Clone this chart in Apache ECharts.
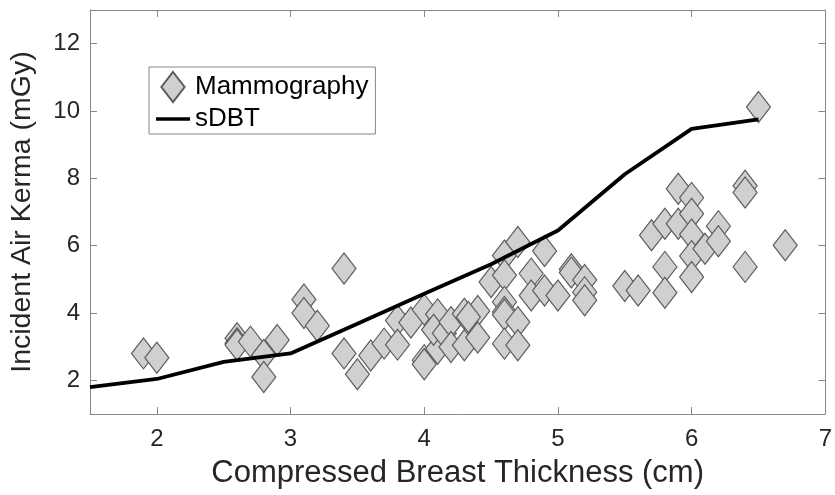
<!DOCTYPE html>
<html>
<head>
<meta charset="utf-8">
<title>Incident Air Kerma vs Compressed Breast Thickness</title>
<script src="https://cdn.jsdelivr.net/npm/echarts@6/dist/echarts.min.js"></script>
<style>
  html, body { margin: 0; padding: 0; background: #fff; }
  #chart { width: 835px; height: 495px; }
</style>
</head>
<body>
<div id="chart"></div>
<script>
// 乳腺X线摄影散点 (cm, mGy)
const mammoX = [
  1.9, 2.0,
  2.6, 2.6, 2.6, 2.7, 2.8, 2.8, 2.9,
  3.1, 3.1, 3.2,
  3.4, 3.4, 3.5, 3.6, 3.7, 3.8, 3.8, 3.9,
  4.0, 4.0, 4.0, 4.1, 4.1, 4.07, 4.15, 4.2, 4.2, 4.3, 4.3, 4.4, 4.4, 4.33,
  4.5, 4.6, 4.6, 4.6, 4.6, 4.6, 4.6, 4.7, 4.7, 4.7, 4.8, 4.8, 4.9, 4.9, 5.0,
  5.1, 5.1, 5.2, 5.2, 5.2,
  5.5, 5.6, 5.7, 5.8, 5.8, 5.8, 5.9, 5.9, 6.0, 6.0, 6.0, 6.0, 6.0, 6.1, 6.2, 6.2,
  6.4, 6.4, 6.4, 6.5, 6.7
]
const mammoY = [
  2.8, 2.67,
  3.25, 3.1, 3.05, 3.15, 2.75, 2.1, 3.2,
  4.4, 4.0, 3.62,
  5.32, 2.8, 2.18, 2.74, 3.09, 3.78, 3.06, 3.72,
  4.1, 2.6, 2.48, 3.96, 2.94, 3.5, 3.4, 3.73, 2.99, 3.98, 3.04, 4.06, 3.27, 3.88,
  4.92, 5.71, 5.12, 4.33, 4.03, 3.95, 3.09, 6.11, 3.73, 3.04, 5.17, 4.52, 5.84, 4.67, 4.52,
  5.3, 5.2, 4.98, 4.62, 4.38,
  4.8, 4.67, 6.31, 6.65, 5.37, 4.6, 7.69, 6.65, 7.42, 6.95, 6.33, 5.69, 5.07, 5.91, 6.58, 6.13,
  7.78, 7.58, 5.37, 10.12, 6.01
]

// sDBT 曲线
const sdbtX = [1.5, 2.0, 2.5, 3.0, 3.5, 4.0, 4.5, 5.0, 5.5, 6.0, 6.5]
const sdbtY = [1.8, 2.04, 2.55, 2.8, 3.68, 4.57, 5.45, 6.45, 8.12, 9.47, 9.75]

// 刻度
const xTicks = [2, 3, 4, 5, 6, 7]
const yTicks = [2, 4, 6, 8, 10, 12]

const fontFamily = '"Liberation Sans", Arial, Helvetica, sans-serif'
const axisColor = '#888888'
const diamondPath = 'path://M12,0L24,15.5L12,31L0,15.5Z'
// 图例中的线段图标（不带圆点）
const linePath = 'path://M0,0L34,0L34,3.5L0,3.5Z'

const chart = echarts.init(document.getElementById('chart'), null, { renderer: 'canvas' })

const baseAxis = {
  type: 'value',
  axisLine: { show: true, onZero: false, lineStyle: { color: axisColor, width: 1 } },
  splitLine: { show: false }
}

const option = {
  animation: false,
  backgroundColor: '#ffffff',
  grid: { left: 88, right: 2, top: 10, bottom: 81, containLabel: false },
  legend: {
    orient: 'vertical',
    left: 149,
    top: 67,
    padding: [4, 7, 2, 7],
    itemGap: 3,
    itemWidth: 34,
    itemHeight: 30,
    borderColor: axisColor,
    borderWidth: 1,
    backgroundColor: '#ffffff',
    textStyle: { fontSize: 26, color: '#000000', fontFamily },
    data: [
      { name: 'Mammography', icon: diamondPath },
      { name: 'sDBT', icon: linePath, itemStyle: { color: '#000000', borderWidth: 0 } }
    ]
  },
  xAxis: [
    {
      ...baseAxis,
      min: 1.5,
      max: 7,
      position: 'bottom',
      name: 'Compressed Breast Thickness (cm)',
      nameLocation: 'middle',
      nameGap: 44,
      nameTextStyle: { fontSize: 31, color: '#262626', fontFamily },
      axisTick: { show: true, inside: true, length: 7, customValues: xTicks, lineStyle: { color: axisColor } },
      axisLabel: { show: true, margin: 13, fontSize: 24, color: '#262626', fontFamily, customValues: xTicks }
    },
    {
      ...baseAxis,
      min: 1.5,
      max: 7,
      position: 'top',
      axisTick: { show: true, inside: true, length: 7, customValues: xTicks, lineStyle: { color: axisColor } },
      axisLabel: { show: false }
    }
  ],
  yAxis: [
    {
      ...baseAxis,
      min: 1,
      max: 13,
      position: 'left',
      name: 'Incident Air Kerma (mGy)',
      nameLocation: 'middle',
      nameGap: 53,
      nameTextStyle: { fontSize: 28.5, color: '#262626', fontFamily },
      axisTick: { show: true, inside: true, length: 7, customValues: yTicks, lineStyle: { color: axisColor } },
      axisLabel: { show: true, margin: 10, fontSize: 24, color: '#262626', fontFamily, customValues: yTicks }
    },
    {
      ...baseAxis,
      min: 1,
      max: 13,
      position: 'right',
      axisTick: { show: true, inside: true, length: 7, customValues: yTicks, lineStyle: { color: axisColor } },
      axisLabel: { show: false }
    }
  ],
  series: [
    {
      name: 'Mammography',
      type: 'scatter',
      symbol: 'diamond',
      symbolSize: [24, 31],
      itemStyle: { color: '#d0d0d0', borderColor: '#5c5c5c', borderWidth: 1.2, opacity: 1 },
      emphasis: { disabled: true },
      z: 2,
      data: mammoX.map((x, i) => [x, mammoY[i]])
    },
    {
      name: 'sDBT',
      type: 'line',
      symbol: 'none',
      showSymbol: false,
      lineStyle: { color: '#000000', width: 3.8 },
      itemStyle: { color: '#000000' },
      emphasis: { disabled: true },
      z: 3,
      data: sdbtX.map((x, i) => [x, sdbtY[i]])
    }
  ]
}

chart.setOption(option)
</script>
</body>
</html>
